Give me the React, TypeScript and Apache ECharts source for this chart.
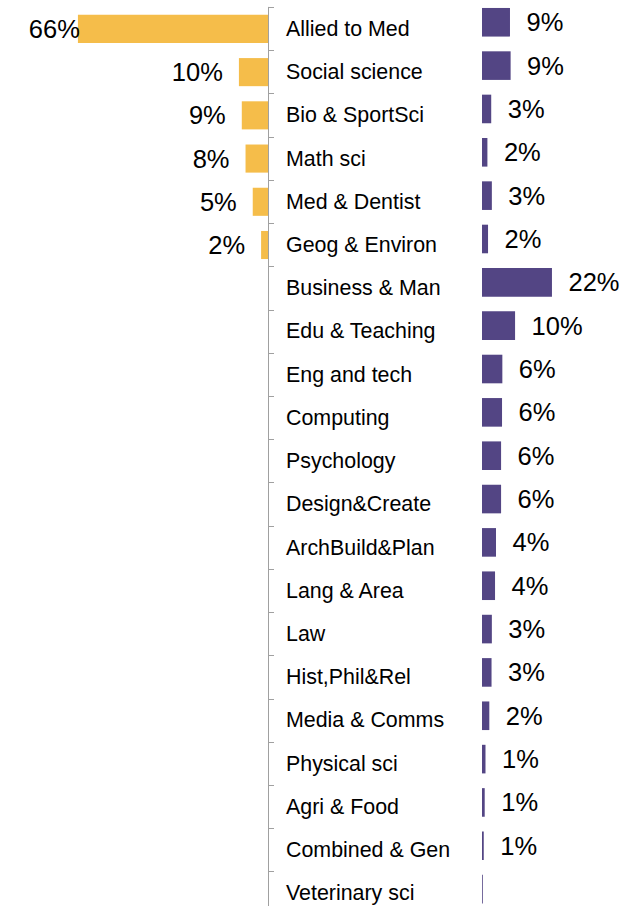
import React, { useEffect, useRef } from "react";
import * as echarts from "echarts";

const categories = [
  "Allied to Med",
  "Social science",
  "Bio & SportSci",
  "Math sci",
  "Med & Dentist",
  "Geog & Environ",
  "Business & Man",
  "Edu & Teaching",
  "Eng and tech",
  "Computing",
  "Psychology",
  "Design&Create",
  "ArchBuild&Plan",
  "Lang & Area",
  "Law",
  "Hist,Phil&Rel",
  "Media & Comms",
  "Physical sci",
  "Agri & Food",
  "Combined & Gen",
  "Veterinary sci",
];

// left (orange) series, percent
const leftValues: (number | null)[] = [
  66, 10.1, 9.1, 7.8, 5.3, 2.4,
  null, null, null, null, null, null, null, null, null, null, null, null, null, null, null,
];

// right (purple) series, percent
const rightValues: number[] = [
  8.8, 9.0, 2.9, 1.7, 3.1, 1.9, 22, 10.4, 6.4, 6.3, 6.0, 6.0, 4.4, 4.1, 3.1, 3.0, 2.3, 1.1, 0.85, 0.55, 0.25,
];

const ORANGE = "#F5BD4A";
const PURPLE = "#534584";
const FONT = "'Liberation Sans', Arial, sans-serif";

const fmt = (p: any) => {
  const v = p.value;
  if (v === null || v === undefined || v === "-") return "";
  const r = Math.round(v);
  return r === 0 ? "" : `${r}%`;
};

export default function App() {
  const ref = useRef<HTMLDivElement>(null);
  useEffect(() => {
    if (!ref.current) return;
    const chart = echarts.init(ref.current, undefined, { renderer: "svg" });
    const leftData = leftValues.map((v, i) =>
      i === 0
        ? { value: v, label: { offset: [18, 0] } }
        : v === null
        ? "-"
        : v
    );
    chart.setOption({
      animation: false,
      backgroundColor: "#ffffff",
      grid: [
        { left: 37.6, width: 230.4, top: 7.3, height: 907.6, outerBoundsMode: "none", containLabel: false },
        { left: 482, width: 127.2, top: 0.6, height: 910.2, outerBoundsMode: "none", containLabel: false },
      ],
      xAxis: [
        { type: "value", gridIndex: 0, min: 0, max: 80, inverse: true, show: false },
        { type: "value", gridIndex: 1, min: 0, max: 40, show: false },
      ],
      yAxis: [
        {
          type: "category",
          gridIndex: 0,
          data: categories,
          inverse: true,
          position: "right",
          axisLine: { show: true, onZero: false, lineStyle: { color: "#A0A0A0", width: 1 } },
          axisTick: { show: true, length: 6, lineStyle: { color: "#A0A0A0" } },
          axisLabel: {
            margin: 18,
            fontSize: 21.4,
            color: "#000000",
            fontFamily: FONT,
            align: "left",
          },
          splitLine: { show: false },
        },
        {
          type: "category",
          gridIndex: 1,
          data: categories,
          inverse: true,
          show: false,
        },
      ],
      series: [
        {
          type: "bar",
          xAxisIndex: 0,
          yAxisIndex: 0,
          data: leftData,
          barWidth: "65%",
          itemStyle: { color: ORANGE },
          label: {
            show: true,
            position: "left",
            distance: 16,
            formatter: fmt,
            fontSize: 25.5,
            color: "#000000",
            fontFamily: FONT,
          },
        },
        {
          type: "bar",
          xAxisIndex: 1,
          yAxisIndex: 1,
          data: rightValues,
          barWidth: "66%",
          itemStyle: { color: PURPLE },
          label: {
            show: true,
            position: "right",
            distance: 16.5,
            formatter: fmt,
            fontSize: 25.5,
            color: "#000000",
            fontFamily: FONT,
          },
        },
      ],
    });
    return () => chart.dispose();
  }, []);
  return (
    <div
      ref={ref}
      style={{ position: "fixed", left: 0, top: 0, width: 635, height: 906 }}
    />
  );
}
